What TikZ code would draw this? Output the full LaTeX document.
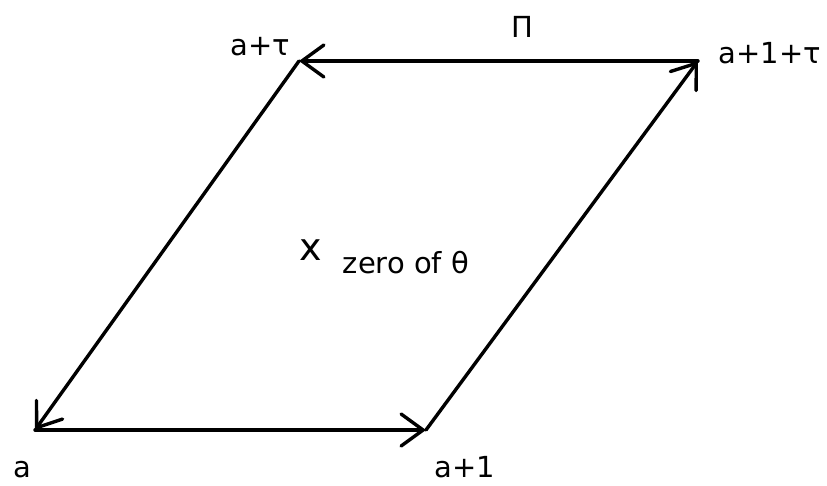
\documentclass[tikz,border=0pt]{standalone}
\usepackage{fontspec}
\setmainfont{DejaVu Sans}
\usetikzlibrary{arrows.meta}
\tikzset{
  side/.style={-{Straight Barb[length=22pt, width=32pt, line cap=round]}, line width=3.4pt, line cap=round},
  lbl/.style={font=\fontsize{29}{33}\selectfont, inner sep=0pt, anchor=base},
  zeromark/.style={font=\fontsize{38}{42}\selectfont, inner sep=0pt, anchor=base}
}
\begin{document}
\begin{tikzpicture}[x=1pt, y=-1pt]
\useasboundingbox (0,0) rectangle (827,485);

%% Corners of the period parallelogram
\coordinate (a)    at (35, 430);
\coordinate (a1)   at (426, 430);
\coordinate (a1t)  at (698, 61);
\coordinate (at)   at (299, 61);

%% Sides
\draw[side] (a)   -- (a1);
\draw[side] (a1)  -- (a1t);
\draw[side] (a1t) -- (at);
\draw[side] (at)  -- (a);

%% Corner labels
\node[lbl] (la)   at (22, 477)  {a};
\node[lbl] (la1)  at (465, 477) {a+1};
\node[lbl] (la1t) at (770, 63)  {a+1+τ};
\node[lbl] (lat)  at (260, 55)  {a+τ};
\node[lbl] (lpi)  at (522, 37)  {Π};

%% Zero inside
\node[zeromark] (zero) at (311, 260) {x};
\node[lbl] (lzero) at (406, 273) {zero of θ};

\end{tikzpicture}
\end{document}
